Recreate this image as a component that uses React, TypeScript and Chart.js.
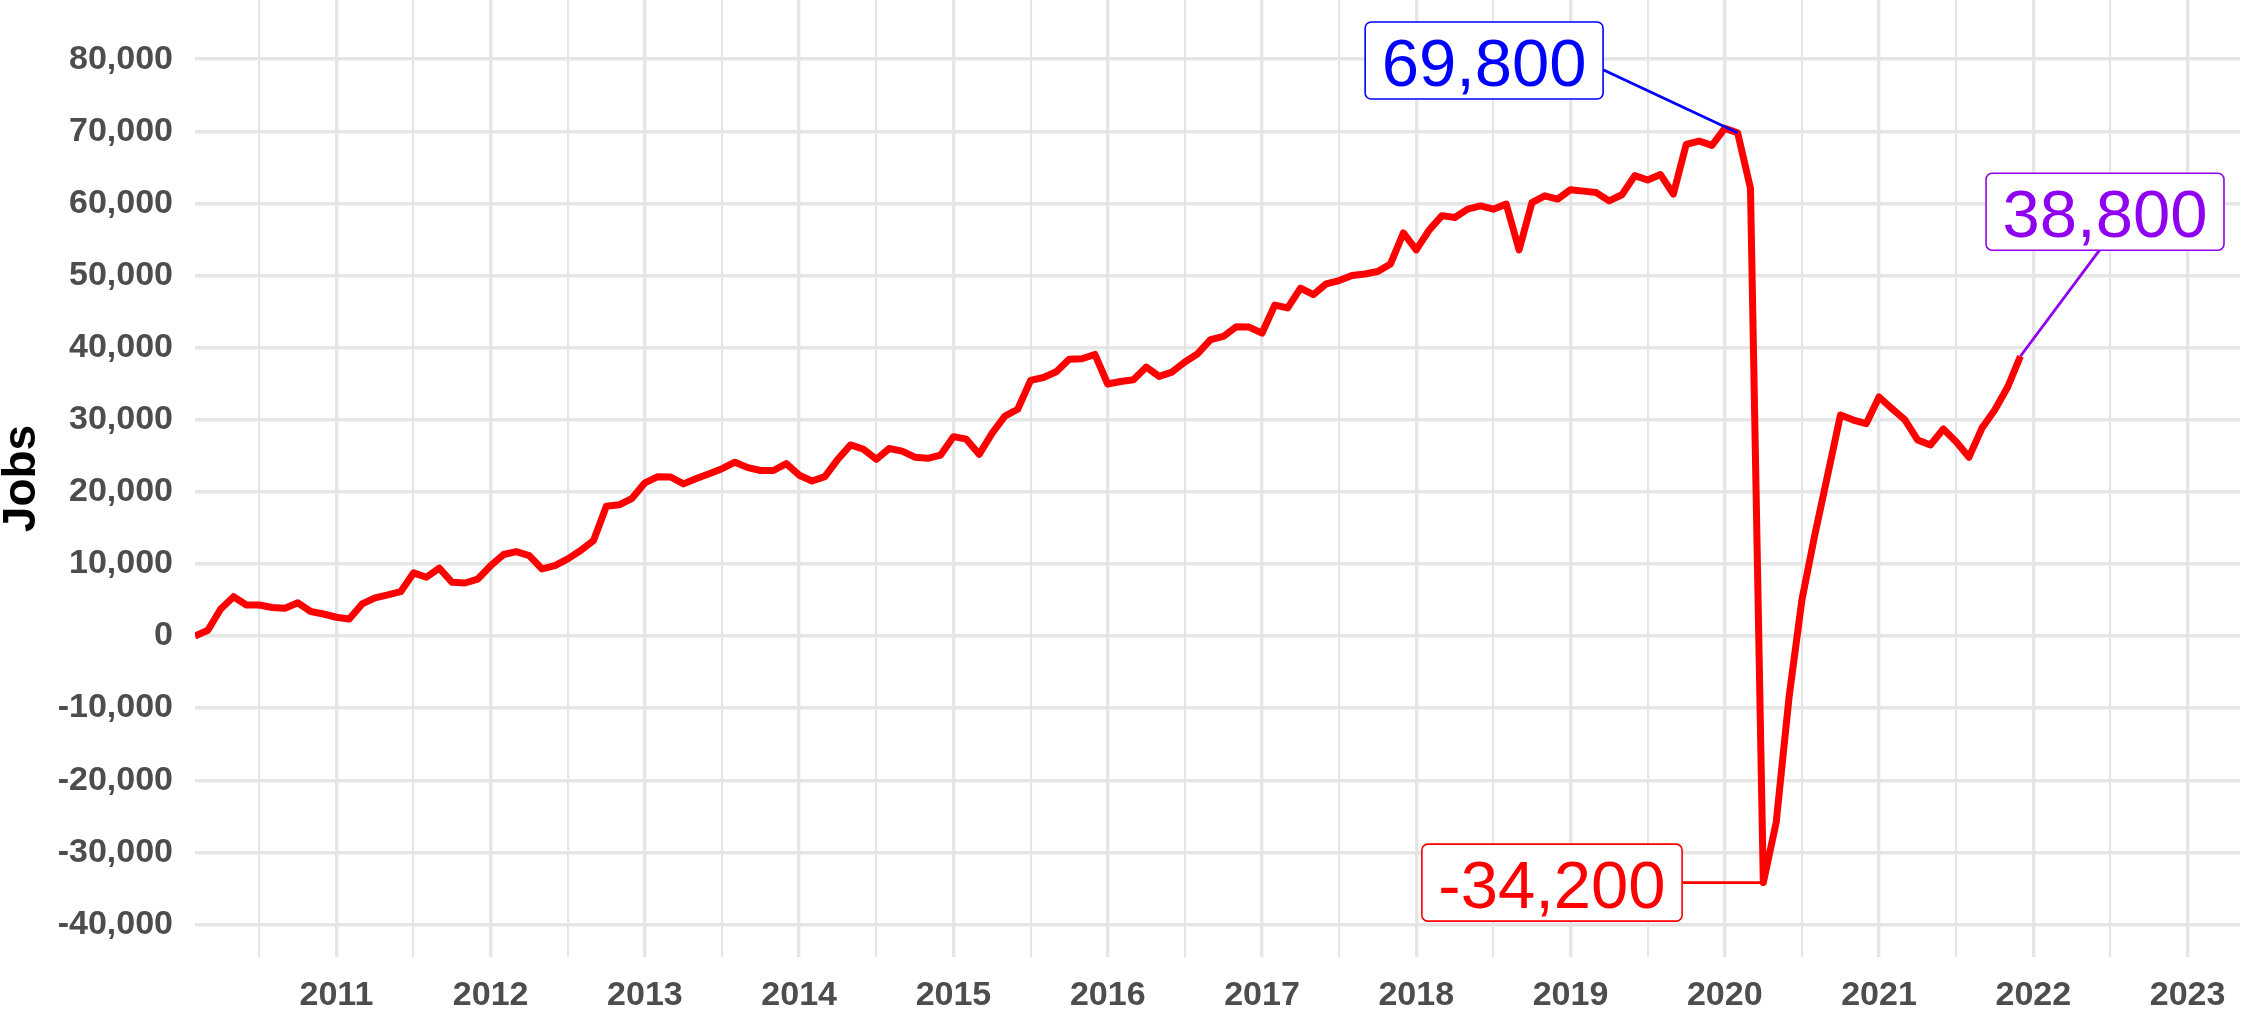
import React, { useEffect, useRef } from 'react';
import { Chart, registerables } from 'chart.js';

Chart.register(...registerables);

// Monthly series, Feb 2010 .. Dec 2021
const START_YEAR = 2010;
const START_MONTH = 2;

const jobs2010 = [0, 800, 3750, 5450, 4300, 4300, 3950, 3850, 4600, 3400, 3050];
const jobs2011 = [2600, 2350, 4450, 5300, 5700, 6150, 8750, 8150, 9400, 7450, 7350, 7900];
const jobs2012 = [9750, 11300, 11700, 11150, 9300, 9750, 10700, 11850, 13250, 18000, 18200, 19100];
const jobs2013 = [21250, 22100, 22050, 21100, 21850, 22500, 23200, 24100, 23350, 22950, 22950, 23900];
const jobs2014 = [22300, 21500, 22100, 24500, 26500, 25900, 24500, 26000, 25650, 24800, 24650, 25100];
const jobs2015 = [27650, 27300, 25200, 28100, 30500, 31450, 35450, 35850, 36650, 38400, 38450, 39050];
const jobs2016 = [34950, 35300, 35550, 37300, 36000, 36600, 38000, 39150, 41100, 41550, 42900, 42850];
const jobs2017 = [42000, 45900, 45500, 48250, 47350, 48850, 49300, 50000, 50200, 50550, 51600, 55900];
const jobs2018 = [53550, 56300, 58300, 58050, 59200, 59650, 59200, 59900, 53550, 60100, 61050, 60600];
const jobs2019 = [61900, 61700, 61500, 60350, 61200, 63850, 63250, 64000, 61300, 68200, 68650, 68050];
const jobs2020 = [70400, 69800, 62100, -34200, -25850, -8500, 5000, 14000, 22300, 30650, 29950, 29450];
const jobs2021 = [33150, 31550, 30000, 27200, 26500, 28700, 26950, 24800, 28800, 31350, 34500, 38800];

const jobs = [
  ...jobs2010, ...jobs2011, ...jobs2012, ...jobs2013, ...jobs2014, ...jobs2015,
  ...jobs2016, ...jobs2017, ...jobs2018, ...jobs2019, ...jobs2020, ...jobs2021,
];

const xTickValues = [
  2010.5, 2011, 2011.5, 2012, 2012.5, 2013, 2013.5, 2014, 2014.5, 2015, 2015.5, 2016, 2016.5,
  2017, 2017.5, 2018, 2018.5, 2019, 2019.5, 2020, 2020.5, 2021, 2021.5, 2022, 2022.5, 2023,
];
const yTickValues = [
  -40000, -35000, -30000, -25000, -20000, -15000, -10000, -5000, 0, 5000, 10000, 15000, 20000,
  25000, 30000, 35000, 40000, 45000, 50000, 55000, 60000, 65000, 70000, 75000, 80000, 85000,
];

// Annotations: index into series, colour, label-box centre (in data units), leader anchor on box
const annIndex = [120, 122, 142];
const annColor = ['#0000FF', '#FF0000', '#9000F0'];
const annBoxX = [2018.44, 2018.88, 2022.465];
const annBoxY = [79820, -34200, 58850];
const annAnchor = [[1, 0.62], [1, 0.5], [0.477, 1]];

const FONT = '"Liberation Sans", Arial, Helvetica, sans-serif';

const xValues = jobs.map((_, i) => START_YEAR + (START_MONTH - 1 + i) / 12);

const annotationPlugin = {
  id: 'annotations',
  afterDatasetsDraw(chart: any) {
    const ctx = chart.ctx;
    const xs = chart.scales.x;
    const ys = chart.scales.y;
    ctx.save();
    for (let k = 0; k < annIndex.length; k++) {
      const idx = annIndex[k];
      const px = xs.getPixelForValue(xValues[idx]);
      const py = ys.getPixelForValue(jobs[idx]);
      const cx = xs.getPixelForValue(annBoxX[k]);
      const cy = ys.getPixelForValue(annBoxY[k]);
      const text = jobs[idx].toLocaleString('en-US');
      ctx.font = `67px ${FONT}`;
      const tw = ctx.measureText(text).width;
      const w = tw + 33;
      const h = 77;
      const left = cx - w / 2;
      const top = cy - h / 2;
      // leader
      ctx.strokeStyle = annColor[k];
      ctx.lineWidth = 2.8;
      ctx.beginPath();
      ctx.moveTo(left + annAnchor[k][0] * w, top + annAnchor[k][1] * h);
      ctx.lineTo(px, py);
      ctx.stroke();
      // box
      ctx.fillStyle = '#FFFFFF';
      ctx.lineWidth = 1.6;
      ctx.beginPath();
      (ctx as any).roundRect(left, top, w, h, 6);
      ctx.fill();
      ctx.stroke();
      // text
      ctx.fillStyle = annColor[k];
      ctx.textAlign = 'center';
      ctx.textBaseline = 'alphabetic';
      ctx.fillText(text, cx, top + 64);
    }
    ctx.restore();
  },
  afterDraw(chart: any) {
    const ctx = chart.ctx;
    const area = chart.chartArea;
    ctx.save();
    ctx.font = `bold 46px ${FONT}`;
    ctx.fillStyle = '#000000';
    ctx.translate(35, (area.top + area.bottom) / 2);
    ctx.rotate(-Math.PI / 2);
    ctx.textAlign = 'center';
    ctx.textBaseline = 'alphabetic';
    ctx.fillText('Jobs', 0, 0);
    ctx.restore();
  },
};

export default function App() {
  const canvasRef = useRef<HTMLCanvasElement | null>(null);

  useEffect(() => {
    document.body.style.margin = '0';
    const canvas = canvasRef.current;
    if (!canvas) return;
    const chart = new Chart(canvas, {
      type: 'line',
      data: {
        datasets: [
          {
            data: jobs.map((v, i) => ({ x: xValues[i], y: v })),
            borderColor: '#FF0000',
            backgroundColor: '#FF0000',
            borderWidth: 7,
            pointRadius: 0,
            tension: 0,
            fill: false,
            borderJoinStyle: 'round',
          } as any,
        ],
      },
      options: {
        animation: false,
        responsive: false,
        devicePixelRatio: 1,
        layout: { padding: { left: 0, right: 16, top: 0, bottom: 0 } },
        plugins: { legend: { display: false }, tooltip: { enabled: false } },
        scales: {
          x: {
            type: 'linear',
            min: xValues[0],
            max: 2023.34,
            border: { display: false },
            grid: {
              color: '#E5E5E5',
              drawTicks: false,
              lineWidth: (c: any) => (c.tick && Number.isInteger(c.tick.value) ? 3.4 : 2.1),
            },
            ticks: {
              autoSkip: false,
              maxRotation: 0,
              minRotation: 0,
              padding: 18,
              color: '#4D4D4D',
              font: { family: FONT, size: 34, weight: 'bold' },
              callback: (v: any) => (Number.isInteger(v) ? String(v) : ''),
            },
            afterBuildTicks: (s: any) => {
              s.ticks = xTickValues.map((v) => ({ value: v }));
            },
            afterFit: (s: any) => {
              s.height = 52;
              s.paddingLeft = 0;
              s.paddingRight = 0;
            },
          } as any,
          y: {
            type: 'linear',
            min: -44520,
            max: 88210,
            border: { display: false },
            grid: {
              color: '#E5E5E5',
              drawTicks: false,
              lineWidth: (c: any) => (c.tick && c.tick.value % 10000 === 0 ? 3.4 : 2.1),
            },
            ticks: {
              padding: 22,
              color: '#4D4D4D',
              font: { family: FONT, size: 34, weight: 'bold' },
              callback: (v: any) => (v % 10000 === 0 ? Number(v).toLocaleString('en-US') : ''),
            },
            afterBuildTicks: (s: any) => {
              s.ticks = yTickValues.map((v) => ({ value: v }));
            },
            afterFit: (s: any) => {
              s.width = 195;
              s.paddingTop = 0;
              s.paddingBottom = 0;
            },
          } as any,
        },
      },
      plugins: [annotationPlugin],
    });
    return () => chart.destroy();
  }, []);

  return (
    <div style={{ width: 2256, height: 1009, background: '#FFFFFF' }}>
      <canvas ref={canvasRef} width={2256} height={1009} style={{ display: 'block' }} />
    </div>
  );
}
